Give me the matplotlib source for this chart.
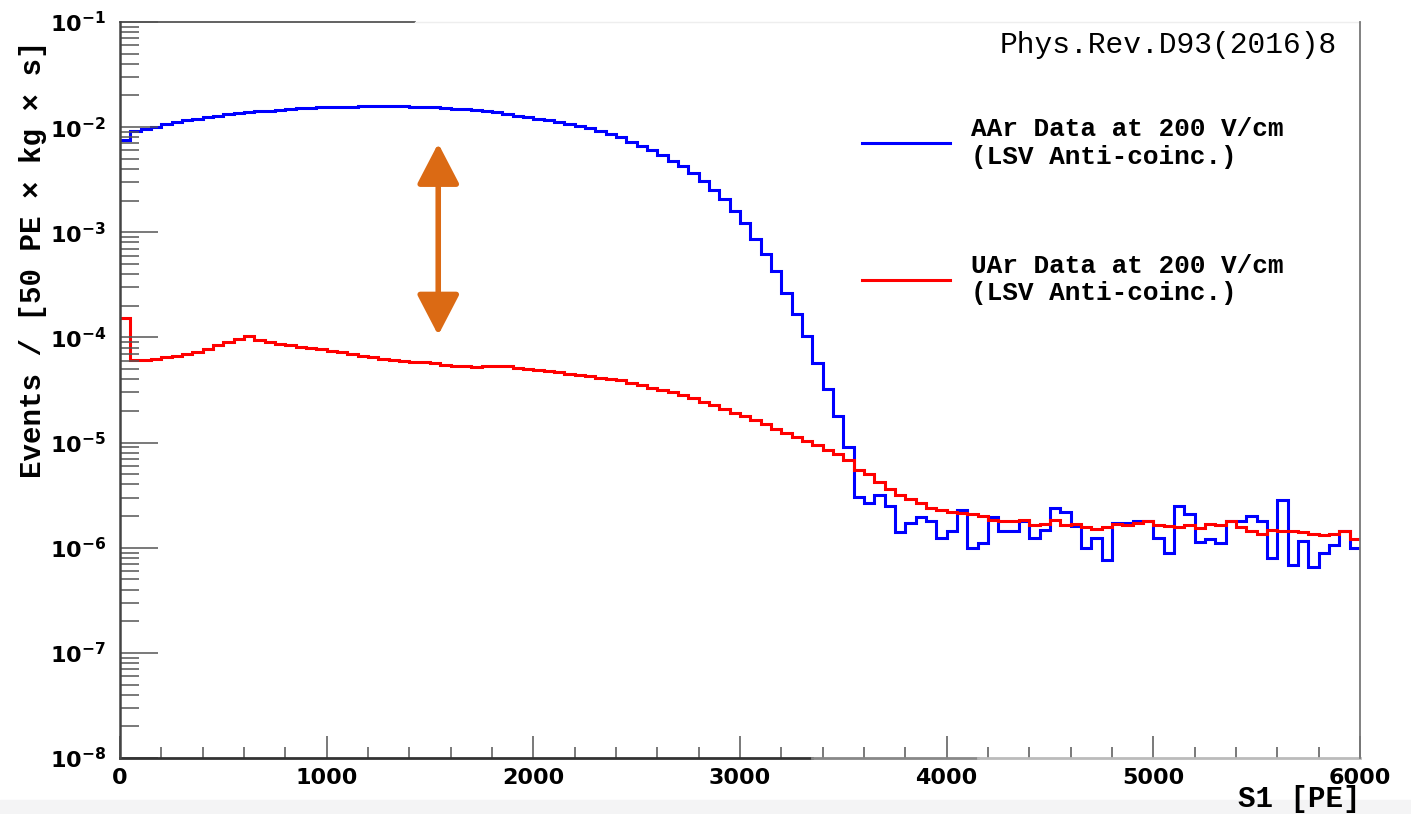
import numpy as np
import matplotlib
matplotlib.use("Agg")
import matplotlib.pyplot as plt
from matplotlib.patches import Rectangle
from matplotlib.ticker import FuncFormatter, LogLocator

# S1 spectrum, 50 PE bins from 0 to 6000 PE
bin_width = 50
s1_max = 6000

aar_rate = [
    7.5e-3, 9.2e-3, 9.6e-3, 1.01e-2, 1.07e-2, 1.12e-2, 1.16e-2, 1.19e-2, 1.24e-2, 1.28e-2,
    1.33e-2, 1.36e-2, 1.39e-2, 1.41e-2, 1.43e-2, 1.45e-2, 1.49e-2, 1.51e-2, 1.53e-2, 1.54e-2,
    1.55e-2, 1.55e-2, 1.57e-2, 1.58e-2, 1.59e-2, 1.59e-2, 1.59e-2, 1.58e-2, 1.56e-2, 1.55e-2,
    1.54e-2, 1.53e-2, 1.50e-2, 1.48e-2, 1.44e-2, 1.41e-2, 1.38e-2, 1.33e-2, 1.28e-2, 1.25e-2,
    1.19e-2, 1.17e-2, 1.12e-2, 1.07e-2, 1.02e-2, 9.8e-3, 9.2e-3, 8.6e-3, 8.1e-3, 7.2e-3,
    6.6e-3, 6.1e-3, 5.4e-3, 4.8e-3, 4.3e-3, 3.7e-3, 3.1e-3, 2.5e-3, 2.07e-3, 1.59e-3,
    1.22e-3, 8.6e-4, 6.2e-4, 4.3e-4, 2.64e-4, 1.67e-4, 1.03e-4, 5.7e-5, 3.2e-5, 1.78e-5,
    9.0e-6, 3.05e-6, 2.64e-6, 3.2e-6, 2.5e-6, 1.40e-6, 1.73e-6, 1.98e-6, 1.78e-6, 1.23e-6,
    1.45e-6, 2.26e-6, 9.9e-7, 1.11e-6, 1.98e-6, 1.45e-6, 1.45e-6, 1.78e-6, 1.24e-6, 1.47e-6,
    2.40e-6, 2.2e-6, 1.6e-6, 9.9e-7, 1.25e-6, 7.6e-7, 1.73e-6, 1.73e-6, 1.78e-6, 1.78e-6,
    1.24e-6, 9.0e-7, 2.5e-6, 2.1e-6, 1.13e-6, 1.2e-6, 1.12e-6, 1.78e-6, 1.78e-6, 2.0e-6,
    1.78e-6, 8.0e-7, 2.83e-6, 6.9e-7, 1.16e-6, 6.6e-7, 9.0e-7, 1.05e-6, 1.45e-6, 1.0e-6,
]

uar_rate = [
    1.52e-4, 6.1e-5, 6.15e-5, 6.3e-5, 6.5e-5, 6.6e-5, 6.9e-5, 7.3e-5, 7.8e-5, 8.4e-5,
    9.1e-5, 9.6e-5, 1.03e-4, 9.4e-5, 9.1e-5, 8.7e-5, 8.4e-5, 8.1e-5, 7.9e-5, 7.7e-5,
    7.4e-5, 7.2e-5, 6.9e-5, 6.7e-5, 6.5e-5, 6.3e-5, 6.15e-5, 6.0e-5, 5.9e-5, 5.8e-5,
    5.65e-5, 5.5e-5, 5.4e-5, 5.3e-5, 5.2e-5, 5.3e-5, 5.4e-5, 5.3e-5, 5.1e-5, 5.0e-5,
    4.9e-5, 4.8e-5, 4.65e-5, 4.5e-5, 4.4e-5, 4.3e-5, 4.15e-5, 4.0e-5, 3.9e-5, 3.65e-5,
    3.5e-5, 3.3e-5, 3.15e-5, 3.0e-5, 2.85e-5, 2.65e-5, 2.45e-5, 2.3e-5, 2.1e-5, 1.92e-5,
    1.78e-5, 1.64e-5, 1.5e-5, 1.36e-5, 1.24e-5, 1.13e-5, 1.04e-5, 9.4e-6, 8.5e-6, 7.7e-6,
    6.8e-6, 5.5e-6, 5.0e-6, 4.2e-6, 3.6e-6, 3.2e-6, 2.9e-6, 2.65e-6, 2.4e-6, 2.3e-6,
    2.2e-6, 2.15e-6, 2.1e-6, 2.0e-6, 1.85e-6, 1.8e-6, 1.78e-6, 1.85e-6, 1.65e-6, 1.68e-6,
    1.85e-6, 1.64e-6, 1.68e-6, 1.58e-6, 1.5e-6, 1.58e-6, 1.68e-6, 1.65e-6, 1.72e-6, 1.78e-6,
    1.65e-6, 1.6e-6, 1.58e-6, 1.65e-6, 1.55e-6, 1.68e-6, 1.65e-6, 1.78e-6, 1.58e-6, 1.45e-6,
    1.35e-6, 1.48e-6, 1.45e-6, 1.43e-6, 1.4e-6, 1.35e-6, 1.32e-6, 1.35e-6, 1.45e-6, 1.22e-6,
]

labels = ["AAr Data at 200 V/cm\n(LSV Anti-coinc.)",
          "UAr Data at 200 V/cm\n(LSV Anti-coinc.)"]

# separation arrow (S1 position, top and bottom rate)
arrow_s1 = 1540
arrow_top = 7.0e-3
arrow_bottom = 1.05e-4

mono = "Liberation Mono"
plt.rcParams['mathtext.fontset'] = 'dejavusans'

edges = np.arange(0, s1_max + bin_width, bin_width)

fig = plt.figure(figsize=(14.11, 8.14), dpi=100)
ax = fig.add_axes([0.085, 0.0688, 0.8789, 0.9042])

ax.stairs(aar_rate, edges, baseline=None, color='#0000ff', lw=2.2, label=labels[0])
ax.stairs(uar_rate, edges, baseline=None, color='#ff0000', lw=2.2, label=labels[1])

ax.annotate('', xy=(arrow_s1, arrow_bottom), xytext=(arrow_s1, arrow_top),
            arrowprops=dict(arrowstyle='<|-|>,head_length=1.25,head_width=0.65',
                            color='#db6a14', lw=4.0, mutation_scale=20,
                            shrinkA=0, shrinkB=0))

ax.set_yscale('log')
ax.set_xlim(0, s1_max)
ax.set_ylim(1e-8, 1e-1)

ax.set_xticks([0, 1000, 2000, 3000, 4000, 5000, 6000])
ax.set_xticks(np.arange(0, s1_max + 1, 200), minor=True)
ax.tick_params(axis='x', which='major', direction='in', length=15.8, width=1.1,
               color='#555555', pad=7, labelsize=16)
ax.tick_params(axis='x', which='minor', direction='in', length=7.9, width=1.1,
               color='#555555')
ax.tick_params(axis='y', which='major', direction='in', length=27.4, width=1.1,
               color='#555555', pad=10, labelsize=16)
ax.tick_params(axis='y', which='minor', direction='in', length=13.7, width=1.1,
               color='#555555')
ax.yaxis.set_minor_locator(LogLocator(base=10, subs=np.arange(2, 10)))
ax.yaxis.set_major_formatter(FuncFormatter(
    lambda v, pos: r'$\mathbf{10^{%d}}$' % int(round(np.log10(v)))))
for lab in ax.get_xticklabels():
    lab.set_fontweight('bold')

# frame: the screenshot only shows part of the top line
ax.spines['top'].set_visible(False)
ax.spines['bottom'].set_visible(False)
ax.spines['left'].set_color('#444444')
ax.spines['left'].set_linewidth(1.8)
ax.spines['right'].set_color('#777777')
ax.spines['right'].set_linewidth(1.3)
ax.axhline(1e-1, xmin=0, xmax=0.238, color='#555555', lw=1.3, clip_on=False)
ax.axhline(1e-1, xmin=0.238, xmax=1, color='#eeeeee', lw=1.0, clip_on=False)
ax.axhline(1e-8, xmin=0, xmax=0.558, color='#333333', lw=2.0, clip_on=False)
ax.axhline(1e-8, xmin=0.558, xmax=0.692, color='#888888', lw=2.0, clip_on=False)
ax.axhline(1e-8, xmin=0.692, xmax=1, color='#bbbbbb', lw=2.0, clip_on=False)

ax.set_ylabel("Events / [50 PE \u00d7 kg \u00d7 s]", family=mono, fontweight='bold',
              fontsize=21)
ax.yaxis.set_label_coords(-0.059, 0.677)
ax.set_xlabel("S1 [PE]", family=mono, fontweight='bold', fontsize=21, loc='right',
              labelpad=-2)

ax.text(0.981, 0.958, "Phys.Rev.D93(2016)8", transform=ax.transAxes, family=mono,
        fontsize=21.3, ha='right', va='baseline')

ax.legend(loc='upper left', bbox_to_anchor=(0.598, 0.871), frameon=False,
          prop=dict(family=mono, weight='bold', size=18.8), handlelength=3.4,
          handletextpad=0.8, labelspacing=3.25, borderpad=0, borderaxespad=0)

fig.patches.append(Rectangle((0, 0), 1, 14 / 814, transform=fig.transFigure,
                             color='#f4f4f5', zorder=-1))

fig.savefig("out.png", dpi=100)
